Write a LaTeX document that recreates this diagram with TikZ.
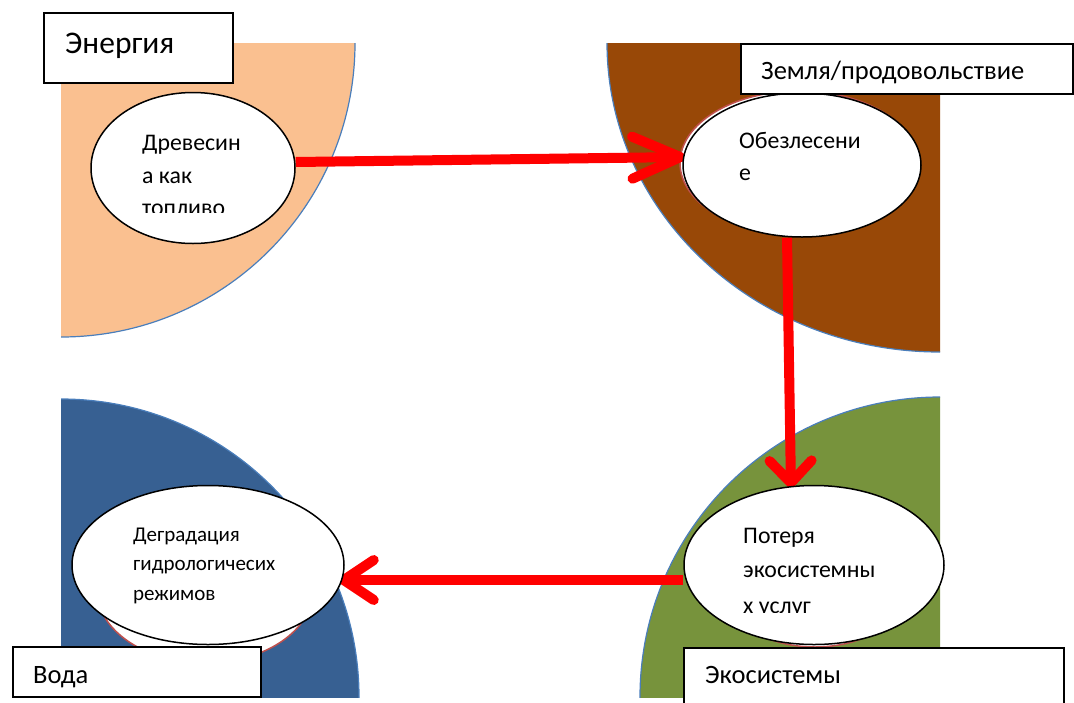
\documentclass[tikz,border=0pt]{standalone}
\usepackage{fontspec}
\setmainfont{Carlito}
\usetikzlibrary{shapes.geometric,arrows.meta}
\definecolor{cOrange}{HTML}{FAC090}
\definecolor{cBrown}{HTML}{984807}
\definecolor{cBlue}{HTML}{376092}
\definecolor{cGreen}{HTML}{77933C}
\definecolor{cRim}{HTML}{4A7EBB}
\definecolor{cHid}{HTML}{C0504D}
\pgfdeclarelayer{bg}
\pgfdeclarelayer{mid}
\pgfsetlayers{bg,mid,main}
\tikzset{
  quad/.style={draw=cRim, line width=1.2pt},
  oval/.style={ellipse, draw=black, fill=white, line width=1.5pt, inner sep=0pt},
  lbox/.style={draw=black, fill=white, line width=1.5pt, inner sep=0pt, anchor=north west},
  ltext/.style={anchor=base west, inner sep=0pt, font=\fontsize{26.5}{32}\selectfont},
  otext/.style={anchor=base west, inner sep=0pt, font=\fontsize{23.8}{28}\selectfont},
  stext/.style={anchor=base west, inner sep=0pt, font=\fontsize{21}{25}\selectfont},
  flow/.style={draw=red, line width=10pt},
  hid/.style={draw=cHid, fill=white, line width=1.5pt},
}
\begin{document}
\begin{tikzpicture}[x=1pt,y=-1pt]
\useasboundingbox (0,0) rectangle (1074,702);
% background quarter shapes
\begin{pgfonlayer}{bg}
  \begin{scope}
    \clip (61,43) rectangle (940,697);
    \fill[cOrange] (61,43) circle[radius=294];
    \draw[quad] (61,43) circle[radius=294];
    \fill[cBrown] (940,43) ellipse[x radius=333, y radius=309];
    \draw[quad] (940,43) ellipse[x radius=333, y radius=309];
    \fill[cBlue] (61,697) circle[radius=298];
    \draw[quad] (61,697) circle[radius=298];
    \fill[cGreen] (940,697) circle[radius=300];
    \draw[quad] (940,697) circle[radius=300];
  \end{scope}
  \filldraw[hid] (205,590) ellipse[x radius=108, y radius=73];
  \filldraw[hid] (815,590) ellipse[x radius=90, y radius=57];
  \filldraw[hid] (799,163) ellipse[x radius=119, y radius=72];
\end{pgfonlayer}
% ellipses
\node[oval, minimum width=204pt, minimum height=151pt] (e1) at (193,168) {};
\node[oval, minimum width=238pt, minimum height=144pt] (e2) at (802,165) {};
\node[oval, minimum width=272pt, minimum height=159pt] (e3) at (208,565) {};
\node[oval, minimum width=260pt, minimum height=159pt] (e4) at (814,565) {};
% arrows beneath the ellipses
\begin{pgfonlayer}{mid}
  \draw[flow, -{Straight Barb[length=48pt, width=42pt, line width=10pt, round]}]
    ([yshift=6pt]e1.east) -- ([xshift=3pt, yshift=8pt]e2.west);
  \draw[flow, -{Straight Barb[length=22pt, width=42pt, line width=10pt, round]}]
    ([xshift=-15pt]e2.south) -- ([xshift=-23pt, yshift=-3pt]e4.north);
  \draw[flow, -{Straight Barb[length=30pt, width=40pt, line width=10pt, round]}]
    ([yshift=-15pt]e4.west) -- ([xshift=-6pt, yshift=-15pt]e3.east);
\end{pgfonlayer}
% ellipse texts
\begin{scope}
  \clip (100,95) rectangle (295,212);
  \node[otext] (t1a) at (142,150) {Древесин};
  \node[otext] (t1b) at (142,183) {а как};
  \node[otext] (t1c) at (142,215) {топливо};
\end{scope}
\node[otext] (t2a) at (739,148) {Обезлесени};
\node[otext] (t2b) at (739,180) {е};
\node[stext] (t3a) at (133,541) {Деградация};
\node[stext] (t3b) at (133,570) {гидрологичесих};
\node[stext] (t3c) at (133,600) {режимов};
\begin{scope}
  \clip (690,490) rectangle (940,612);
  \node[otext] (t4a) at (743,543) {Потеря};
  \node[otext] (t4b) at (743,577) {экосистемны};
  \node[otext] (t4c) at (743,613) {х услуг};
\end{scope}
% label boxes
\node[lbox, minimum width=189pt, minimum height=70pt] (b1) at (43,12) {};
\node[ltext, font=\fontsize{31.5}{36}\selectfont] (l1) at (65,53) {Энергия};
\node[lbox, minimum width=332pt, minimum height=50pt] (b2) at (740,43) {};
\node[ltext] (l2) at (761,79) {Земля/продовольствие};
\node[lbox, minimum width=248pt, minimum height=50pt] (b3) at (12,646) {};
\node[ltext] (l3) at (33,683) {Вода};
\node[lbox, minimum width=380pt, minimum height=62pt] (b4) at (683,647) {};
\node[ltext] (l4) at (705,683) {Экосистемы};
\end{tikzpicture}
\end{document}
